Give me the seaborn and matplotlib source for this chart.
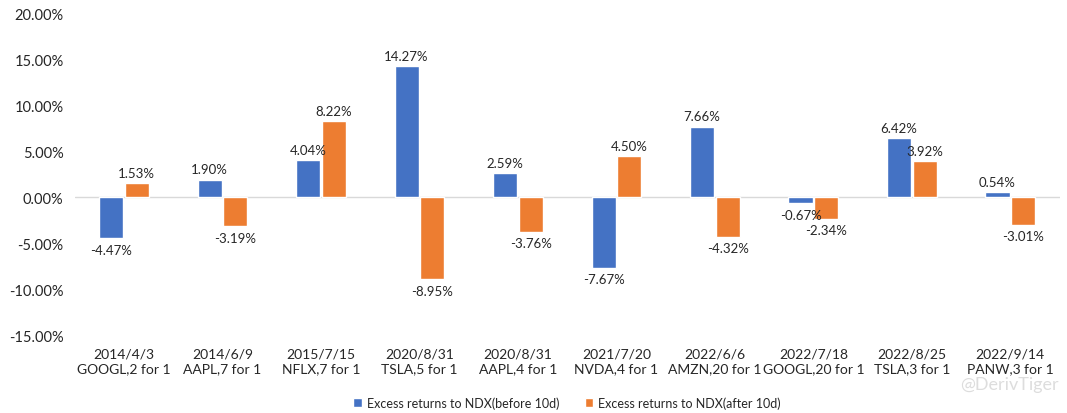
import matplotlib
matplotlib.use("Agg")
import matplotlib.pyplot as plt
import seaborn as sns
import pandas as pd
from matplotlib.ticker import FuncFormatter

categories = ["2014/4/3\nGOOGL,2 for 1", "2014/6/9\nAAPL,7 for 1", "2015/7/15\nNFLX,7 for 1",
              "2020/8/31\nTSLA,5 for 1", "2020/8/31\nAAPL,4 for 1", "2021/7/20\nNVDA,4 for 1",
              "2022/6/6\nAMZN,20 for 1", "2022/7/18\nGOOGL,20 for 1", "2022/8/25\nTSLA,3 for 1",
              "2022/9/14\nPANW,3 for 1"]
before_10d = [-4.47, 1.90, 4.04, 14.27, 2.59, -7.67, 7.66, -0.67, 6.42, 0.54]
after_10d = [1.53, -3.19, 8.22, -8.95, -3.76, 4.50, -4.32, -2.34, 3.92, -3.01]
series_names = ["Excess returns to NDX(before 10d)", "Excess returns to NDX(after 10d)"]

df = pd.DataFrame({
    "cat": categories * 2,
    "val": before_10d + after_10d,
    "series": [series_names[0]] * len(categories) + [series_names[1]] * len(categories),
})

sns.set_style("white")
plt.rcParams["font.family"] = ["Lato", "DejaVu Sans"]

fig = plt.figure(figsize=(10.67, 4.14), dpi=100)
ax = fig.add_axes([0.070, 0.188, 0.923, 0.778])
sns.barplot(data=df, x="cat", y="val", hue="series", ax=ax,
            palette=["#4472C4", "#ED7D31"], width=0.52, gap=0.06,
            saturation=1, errorbar=None)

ax.set_ylim(-15, 20)
ax.set_yticks(range(-15, 21, 5))
ax.yaxis.set_major_formatter(FuncFormatter(lambda v, p: f"{v:.2f}%"))
ax.tick_params(axis="y", labelsize=10.5, length=0, pad=8)
ax.tick_params(axis="x", labelsize=10, length=0, pad=9)
ax.set_xlabel("")
ax.set_ylabel("")
for s in ax.spines.values():
    s.set_visible(False)
ax.axhline(0, color="#D9D9D9", lw=1, zorder=0)
ax.set_xlim(-0.5, len(categories) - 0.5)

for cont in ax.containers:
    vals = cont.datavalues
    for rect, v in zip(cont, vals):
        x = rect.get_x() + rect.get_width() / 2
        if v >= 0:
            ax.annotate(f"{v:.2f}%", (x, v), xytext=(0, 3), textcoords="offset points",
                        ha="center", va="bottom", fontsize=9.5)
        else:
            ax.annotate(f"{v:.2f}%", (x, v), xytext=(0, -4), textcoords="offset points",
                        ha="center", va="top", fontsize=9.5)

leg = ax.legend(loc="upper center", bbox_to_anchor=(0.5, -0.155), ncol=2, frameon=False,
                fontsize=9, handlelength=0.7, handleheight=0.7, handletextpad=0.4,
                columnspacing=2.0)
ax.legend_.set_title(None)

fig.text(0.992, 0.07, "@DerivTiger", fontsize=13, color="#DDDDDD", ha="right", va="center")

fig.savefig("out.png", dpi=100)
